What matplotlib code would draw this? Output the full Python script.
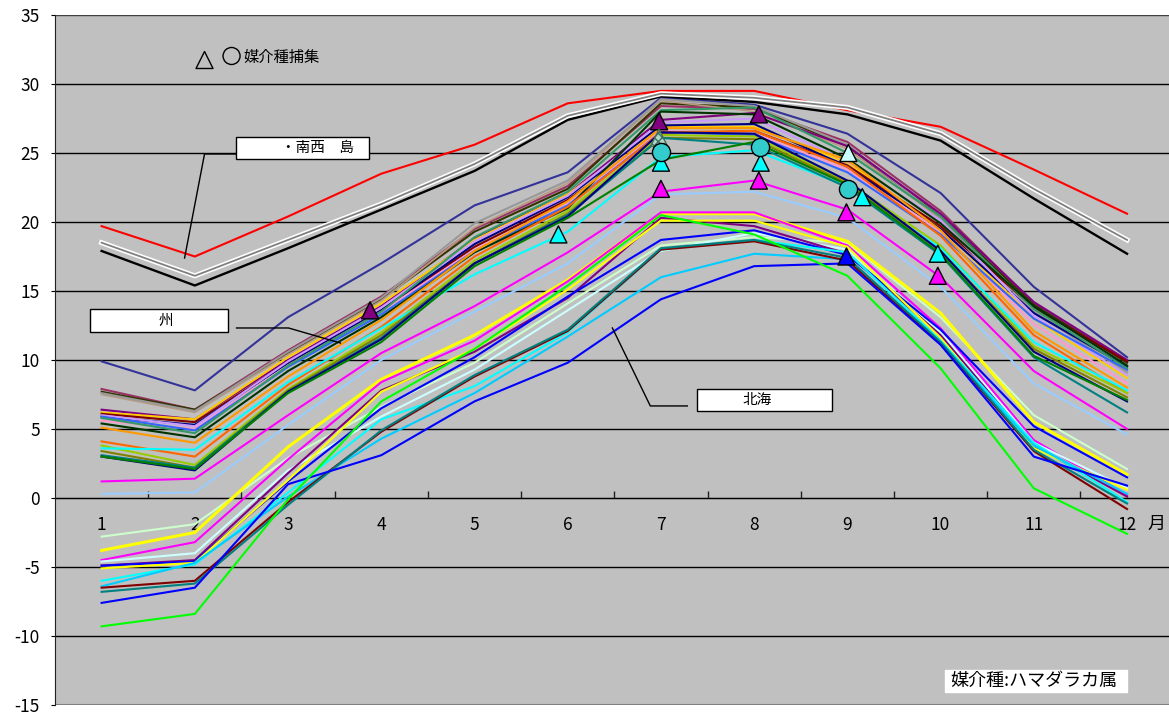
import matplotlib.pyplot as plt
from matplotlib.patches import Rectangle

plt.rcParams['font.family'] = ['Noto Sans CJK JP', 'DejaVu Sans']
plt.rcParams['axes.unicode_minus'] = False

months = [1, 2, 3, 4, 5, 6, 7, 8, 9, 10, 11, 12]
month_labels = ['1', '2', '3', '4', '5', '6', '7', '8', '9', '10', '11', '12']
y_ticks = [-15, -10, -5, 0, 5, 10, 15, 20, 25, 30, 35]

# 南西諸島
nansei_red = [19.7, 17.5, 20.4, 23.5, 25.6, 28.6, 29.5, 29.5, 28.1, 26.9, 23.8, 20.6]
nansei_white = [18.5, 16.1, 18.7, 21.3, 24.2, 27.7, 29.3, 29.0, 28.3, 26.4, 22.4, 18.7]
nansei_black = [17.9, 15.4, 18.1, 20.9, 23.7, 27.4, 29.1, 28.7, 27.8, 25.9, 21.7, 17.7]

# 九州・本州
k_slateblue = [9.9, 7.8, 13.1, 17.0, 21.2, 23.6, 29.0, 28.5, 26.4, 22.1, 15.3, 10.2]
k_plum = [7.9, 6.4, 10.7, 14.6, 19.5, 22.6, 28.4, 28.2, 25.8, 20.8, 14.1, 9.9]
k_darkolive = [7.7, 6.4, 10.5, 14.4, 19.3, 22.4, 28.6, 28.3, 25.5, 20.4, 14.0, 9.8]
k_tan = [7.5, 6.2, 10.4, 14.3, 19.6, 22.8, 28.8, 28.0, 25.3, 20.2, 13.6, 9.1]
k_gray = [7.6, 6.3, 10.6, 14.5, 19.9, 23.0, 28.9, 28.4, 25.6, 20.3, 13.5, 9.1]
k_purple = [6.4, 5.7, 10.0, 13.9, 18.8, 22.0, 27.4, 27.9, 25.5, 20.6, 14.2, 10.0]
k_gold = [6.2, 5.7, 10.2, 14.1, 18.7, 22.0, 26.9, 26.9, 24.3, 19.6, 13.0, 8.7]
k_darkred = [6.1, 5.5, 9.8, 13.6, 18.2, 21.6, 26.4, 26.6, 24.1, 19.7, 13.8, 9.9]
k_navy = [5.9, 5.3, 9.8, 13.6, 18.4, 21.8, 27.0, 27.1, 24.0, 19.5, 13.4, 9.5]
k_pink = [5.6, 5.0, 9.6, 13.5, 18.0, 21.4, 26.6, 26.4, 23.8, 19.3, 12.6, 8.3]
k_lavender = [6.0, 5.2, 9.9, 13.8, 18.6, 21.9, 27.2, 27.5, 24.4, 20.1, 13.2, 8.9]
k_royal = [5.9, 4.9, 9.5, 13.3, 17.9, 21.2, 26.5, 26.3, 23.6, 19.1, 13.0, 9.3]
k_seagreen = [5.8, 4.7, 9.6, 13.5, 18.9, 22.2, 28.1, 28.3, 25.0, 20.4, 13.7, 9.4]
k_darkgreen = [5.4, 4.4, 9.2, 13.1, 17.8, 21.0, 28.0, 27.8, 24.6, 19.9, 13.9, 9.6]
k_orange = [5.1, 4.0, 8.8, 12.9, 17.9, 21.5, 26.8, 26.8, 24.5, 19.4, 12.1, 8.0]
k_orangered = [4.1, 3.0, 8.2, 12.4, 17.5, 21.1, 26.5, 26.6, 24.0, 19.0, 11.8, 7.6]
k_yellowgreen = [3.8, 2.4, 7.9, 12.0, 17.2, 20.8, 26.3, 26.2, 22.9, 18.3, 11.0, 7.6]
k_cyan = [3.6, 3.5, 8.4, 12.3, 16.2, 19.3, 24.7, 25.2, 22.6, 18.1, 11.3, 7.8]
k_olive = [3.4, 2.2, 7.8, 11.8, 17.0, 20.6, 26.1, 26.0, 22.8, 17.9, 10.8, 7.3]
k_teal = [3.1, 2.2, 7.7, 11.6, 17.0, 20.5, 26.1, 25.6, 22.5, 17.6, 10.2, 6.2]
k_navy2 = [3.0, 2.0, 7.7, 11.5, 17.0, 20.4, 26.5, 26.4, 23.0, 17.9, 10.6, 7.0]
k_green = [3.0, 2.1, 7.6, 11.3, 16.8, 20.3, 24.5, 25.8, 22.7, 17.7, 10.3, 7.1]
k_magenta = [1.2, 1.4, 6.0, 10.5, 13.9, 17.8, 22.2, 23.0, 20.9, 16.0, 9.2, 5.0]
k_lightblue = [0.3, 0.4, 5.3, 10.0, 13.5, 17.0, 22.0, 22.2, 20.3, 15.3, 8.3, 4.6]

# 北海道・東北
h_palegreen = [-2.8, -1.9, 2.9, 6.6, 9.8, 14.1, 18.3, 18.9, 18.5, 13.1, 6.0, 2.1]
h_yellow = [-3.8, -2.5, 3.7, 8.6, 11.8, 15.8, 20.6, 20.6, 18.6, 13.4, 5.5, 1.7]
h_magenta = [-4.5, -3.2, 2.8, 8.4, 11.4, 15.7, 20.7, 20.7, 18.3, 12.3, 4.2, 0.2]
h_palecyan = [-4.6, -4.0, 2.0, 5.9, 9.3, 13.6, 17.9, 19.2, 18.0, 12.0, 4.0, 0.7]
h_purple = [-4.9, -4.5, 1.8, 7.8, 10.6, 14.5, 20.3, 19.7, 17.7, 11.8, 3.8, 0.1]
h_blue = [-4.9, -4.6, 1.2, 6.5, 10.2, 14.6, 18.7, 19.4, 17.6, 12.2, 5.2, 1.5]
h_yellow2 = [-5.1, -4.7, 1.3, 7.7, 10.8, 15.1, 20.1, 20.1, 18.2, 11.6, 3.6, 0.6]
h_cyan = [-6.0, -4.8, 0.4, 5.7, 8.1, 12.0, 18.0, 18.7, 17.8, 11.4, 4.0, -0.3]
h_skyblue = [-6.4, -4.7, 0.1, 4.3, 7.6, 11.7, 16.0, 17.7, 17.3, 11.3, 3.8, 0.3]
h_darkred = [-6.5, -6.0, -0.3, 4.8, 8.8, 12.1, 18.0, 18.6, 17.2, 11.2, 3.4, -0.8]
h_teal = [-6.8, -6.2, -0.5, 4.9, 8.9, 12.2, 18.1, 18.7, 17.4, 11.3, 3.5, -0.4]
h_blue2 = [-7.6, -6.5, 1.0, 3.1, 7.0, 9.8, 14.4, 16.8, 17.0, 11.1, 3.0, 0.9]
h_green = [-9.3, -8.4, -0.1, 7.0, 10.8, 15.4, 20.5, 19.1, 16.1, 9.4, 0.7, -2.6]

# 媒介種捕集 (月位置, 気温)
catch_tri_x = [3.88, 5.90, 6.98, 7.00, 7.00, 8.05, 8.07, 8.05, 9.01, 9.16, 8.99, 8.99, 9.97, 9.97]
catch_tri_y = [13.6, 19.1, 27.3, 24.3, 22.4, 27.8, 24.3, 23.0, 25.0, 21.8, 20.7, 17.5, 17.7, 16.1]
catch_tri_c = ['#800080', '#00FFFF', '#800080', '#00FFFF', '#FF00FF', '#800080', '#00FFFF',
               '#FF00FF', '#CCFFFF', '#00FFFF', '#FF00FF', '#0000FF', '#00FFFF', '#FF00FF']
catch_tri2_x = [6.98]
catch_tri2_y = [26.1]
catch_circ_x = [7.00, 8.06, 9.01]
catch_circ_y = [25.1, 25.4, 22.4]

lines = [
    (k_slateblue, '#333399', 1.5), (k_plum, '#993366', 1.5), (k_darkolive, '#333300', 1.5),
    (k_tan, '#B89A80', 1.2), (k_gray, '#999999', 1.5), (k_purple, '#800080', 1.5),
    (k_gold, '#FFCC00', 1.5), (k_darkred, '#800000', 1.5), (k_navy, '#000080', 1.5),
    (k_pink, '#FF99CC', 1.5), (k_lavender, '#CC99FF', 1.5), (k_royal, '#3366FF', 1.5),
    (k_seagreen, '#339966', 1.5), (k_darkgreen, '#003300', 1.5), (k_orange, '#FF9900', 1.5),
    (k_orangered, '#FF6600', 1.5), (k_yellowgreen, '#99CC00', 1.5), (k_cyan, '#00FFFF', 1.5),
    (k_olive, '#808000', 1.5), (k_teal, '#008080', 1.5), (k_navy2, '#000080', 1.5),
    (k_green, '#008000', 1.5), (k_magenta, '#FF00FF', 1.5), (k_lightblue, '#99CCFF', 1.5),
    (h_palegreen, '#CCFFCC', 1.5), (h_yellow, '#FFFF00', 2.2), (h_magenta, '#FF00FF', 1.5),
    (h_palecyan, '#CCFFFF', 1.5), (h_purple, '#800080', 1.5), (h_blue, '#0000FF', 1.5),
    (h_yellow2, '#FFFF00', 1.5), (h_cyan, '#00FFFF', 1.5), (h_skyblue, '#00CCFF', 1.5),
    (h_darkred, '#800000', 1.5), (h_teal, '#008080', 1.5), (h_blue2, '#0000FF', 1.5),
    (h_green, '#00FF00', 1.5),
    (nansei_red, '#FF0000', 1.5), (nansei_black, '#000000', 1.7),
]

fig = plt.figure(figsize=(11.69, 7.18), dpi=100)
ax = fig.add_axes([55 / 1169, 13 / 718, 1114 / 1169, 690 / 718])
ax.set_facecolor('#C0C0C0')
ax.set_xlim(0.5, 12.45)
ax.set_ylim(-15, 35)

for v in y_ticks[1:-1]:
    ax.axhline(v, color='black', lw=1, zorder=1)
ax.axhline(35, color='#404040', lw=1, zorder=1)
ax.axhline(-15, color='#808080', lw=1.5, zorder=1)

for vals, col, lw in lines:
    ax.plot(months, vals, color=col, lw=lw, zorder=3)
# 白縁の灰色線
ax.plot(months, nansei_white, color='white', lw=3.6, zorder=3)
ax.plot(months, nansei_white, color='#808080', lw=1.3, zorder=3)

ax.scatter(catch_tri_x, catch_tri_y, marker='^', s=150, c=catch_tri_c,
           edgecolors='black', linewidths=1, zorder=5)
ax.scatter(catch_tri2_x, catch_tri2_y, marker='^', s=150, c='#B0D8C8', hatch='xxxx',
           edgecolors='#407060', linewidths=1, zorder=5)
ax.scatter(catch_circ_x, catch_circ_y, marker='o', s=170, c='#33CCCC',
           edgecolors='black', linewidths=1, zorder=5)

# 凡例
ax.scatter([2.104], [31.74], marker='^', s=150, facecolors='none', edgecolors='black', linewidths=1, zorder=5)
ax.scatter([2.394], [32.03], marker='o', s=150, facecolors='none', edgecolors='black', linewidths=1, zorder=5)
ax.text(2.52, 31.95, '媒介種捕集', fontsize=11, va='center', ha='left', zorder=6)

# 地域ラベル
def region_box(x0, x1, y0, y1, label, tx, border=True, fs=10.5):
    ax.add_patch(Rectangle((x0, y0), x1 - x0, y1 - y0, facecolor='white',
                           edgecolor='black' if border else 'white', lw=1, zorder=6))
    ax.text(tx, (y0 + y1) / 2, label, fontsize=fs, ha='center', va='center', zorder=7)

region_box(2.437, 3.863, 24.57, 26.16, '・南西　島', 3.32)
ax.plot([2.437, 2.104, 1.89], [24.93, 24.93, 17.39], color='black', lw=1, zorder=6)
region_box(0.871, 2.351, 12.03, 13.70, '州', 1.69)
ax.plot([2.447, 3.005, 3.562], [12.32, 12.32, 11.23], color='black', lw=1, zorder=6)
region_box(7.39, 8.84, 6.30, 7.90, '北海', 8.03)
ax.plot([7.283, 6.886, 6.479], [6.67, 6.67, 12.32], color='black', lw=1, zorder=6)
region_box(10.05, 12.0, -14.06, -12.46, '媒介種:ハマダラカ属', 11.0, border=False, fs=13)

ax.text(12.32, -1.9, '月', fontsize=13, ha='center', va='center', zorder=6)

# 軸
for s in ['top', 'right']:
    ax.spines[s].set_visible(False)
ax.spines['bottom'].set_position(('data', 0))
ax.spines['bottom'].set_color('black')
ax.spines['bottom'].set_zorder(2)
ax.spines['left'].set_color('#202020')
ax.set_xticks(months, month_labels)
ax.set_xticks([m + 0.5 for m in months[:-1]], minor=True)
ax.tick_params(axis='x', which='major', length=0, pad=13, labelsize=12.5)
ax.tick_params(axis='x', which='minor', direction='in', length=5, width=1, color='#202020')
ax.set_yticks(y_ticks)
ax.tick_params(axis='y', length=3, pad=8, labelsize=12.5)

fig.savefig('out.png', dpi=100, facecolor='white')
